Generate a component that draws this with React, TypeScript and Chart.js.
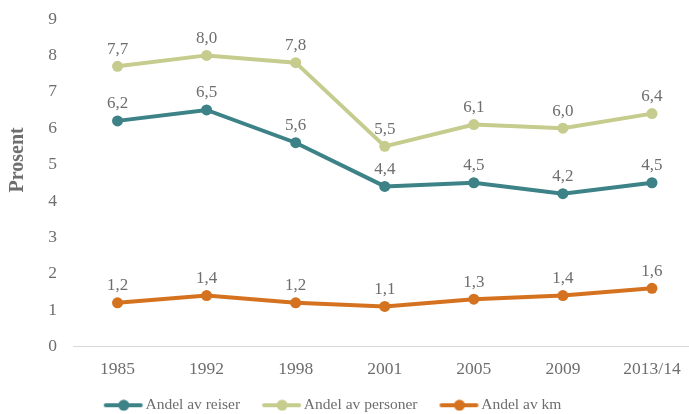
import React, { useEffect, useRef } from "react";
import { Chart, registerables } from "chart.js";

Chart.register(...registerables);

const categories = ["1985", "1992", "1998", "2001", "2005", "2009", "2013/14"];
const seriesNames = ["Andel av reiser", "Andel av personer", "Andel av km"];
const reiser = [6.2, 6.5, 5.6, 4.4, 4.5, 4.2, 4.5];
const personer = [7.7, 8.0, 7.8, 5.5, 6.1, 6.0, 6.4];
const km = [1.2, 1.4, 1.2, 1.1, 1.3, 1.4, 1.6];
const yTicks = [0, 1, 2, 3, 4, 5, 6, 7, 8, 9];
const yTitle = "Prosent";
const colors = ["#3C8287", "#C6CC8D", "#D4721F"];

const FONT = "'Liberation Serif', 'Times New Roman', serif";
const TEXT = "#6e6e6e";

// legend icon: transparent blank on the left (extra spacing), then line + dot
function legendIcon(color: string): HTMLCanvasElement {
  const c = document.createElement("canvas");
  c.width = 50;
  c.height = 12;
  const ctx = c.getContext("2d")!;
  ctx.strokeStyle = color;
  ctx.lineWidth = 4;
  ctx.lineCap = "round";
  ctx.beginPath();
  ctx.moveTo(12, 6);
  ctx.lineTo(47, 6);
  ctx.stroke();
  ctx.fillStyle = color;
  ctx.beginPath();
  ctx.arc(30, 6, 5.5, 0, Math.PI * 2);
  ctx.fill();
  return c;
}

const dataLabels = {
  id: "dataLabels",
  afterDatasetsDraw(chart: any) {
    const ctx = chart.ctx;
    ctx.save();
    ctx.font = `17px ${FONT}`;
    ctx.fillStyle = TEXT;
    ctx.textAlign = "center";
    ctx.textBaseline = "middle";
    chart.data.datasets.forEach((ds: any, i: number) => {
      const meta = chart.getDatasetMeta(i);
      meta.data.forEach((pt: any, j: number) => {
        const v = ds.data[j] as number;
        ctx.fillText(v.toFixed(1).replace(".", ","), pt.x, pt.y - 17);
      });
    });
    ctx.restore();
  },
};

const axisTitle = {
  id: "axisTitle",
  afterDraw(chart: any) {
    const { ctx, chartArea } = chart;
    ctx.save();
    ctx.font = `bold 20px ${FONT}`;
    ctx.fillStyle = TEXT;
    ctx.textAlign = "center";
    ctx.textBaseline = "middle";
    ctx.translate(chartArea.left - 55, chartArea.top + (chartArea.bottom - chartArea.top) * 0.43);
    ctx.rotate(-Math.PI / 2);
    ctx.fillText(yTitle, 0, 0);
    ctx.restore();
  },
};

export default function App() {
  const ref = useRef<HTMLCanvasElement | null>(null);
  useEffect(() => {
    if (!ref.current) return;
    const icons = colors.map(legendIcon);
    const values = [reiser, personer, km];
    const chart = new Chart(ref.current, {
      type: "line",
      data: {
        labels: categories,
        datasets: seriesNames.map((name, i) => ({
          label: name,
          data: values[i],
          borderColor: colors[i],
          backgroundColor: colors[i],
          borderWidth: 4,
          pointRadius: 5.5,
          pointBackgroundColor: colors[i],
          pointBorderWidth: 0,
          tension: 0,
        })),
      },
      options: {
        responsive: false,
        animation: false,
        layout: { padding: { top: 19, right: 1, left: 0, bottom: 0 } },
        scales: {
          x: {
            offset: true,
            grid: { display: false, drawTicks: false },
            border: { display: true, color: "#d9d9d9", width: 1 },
            ticks: { color: TEXT, font: { family: FONT, size: 17.5 }, padding: 12, maxRotation: 0 },
            afterFit: (s: any) => { s.height = 33; },
          },
          y: {
            min: 0,
            max: 9,
            afterBuildTicks: (s: any) => { s.ticks = yTicks.map((v) => ({ value: v })); },
            grid: { display: false, drawTicks: false },
            border: { display: false },
            ticks: { color: TEXT, font: { family: FONT, size: 17.5 }, padding: 16 },
            afterFit: (s: any) => { s.width = 113; s.paddingTop = 0; s.paddingBottom = 0; },
          },
        },
        plugins: {
          legend: {
            position: "bottom",
            align: "center",
            labels: {
              color: TEXT,
              font: { family: FONT, size: 15.5 },
              usePointStyle: true,
              pointStyleWidth: 38,
              padding: 18,
              generateLabels: (c: any) =>
                (Chart.defaults.plugins.legend.labels as any).generateLabels(c).map((l: any, i: number) => ({
                  ...l,
                  pointStyle: icons[i],
                  fontColor: TEXT,
                })),
            },
          },
          tooltip: { enabled: false },
        },
      },
      plugins: [dataLabels, axisTitle],
    });
    return () => chart.destroy();
  }, []);
  return (
    <div style={{ position: "fixed", left: 0, top: 0, width: 689, height: 414, overflow: "hidden", background: "#fff" }}>
      <canvas ref={ref} width={742} height={423} style={{ position: "absolute", left: -40, top: 0, width: 742, height: 423 }} />
    </div>
  );
}
